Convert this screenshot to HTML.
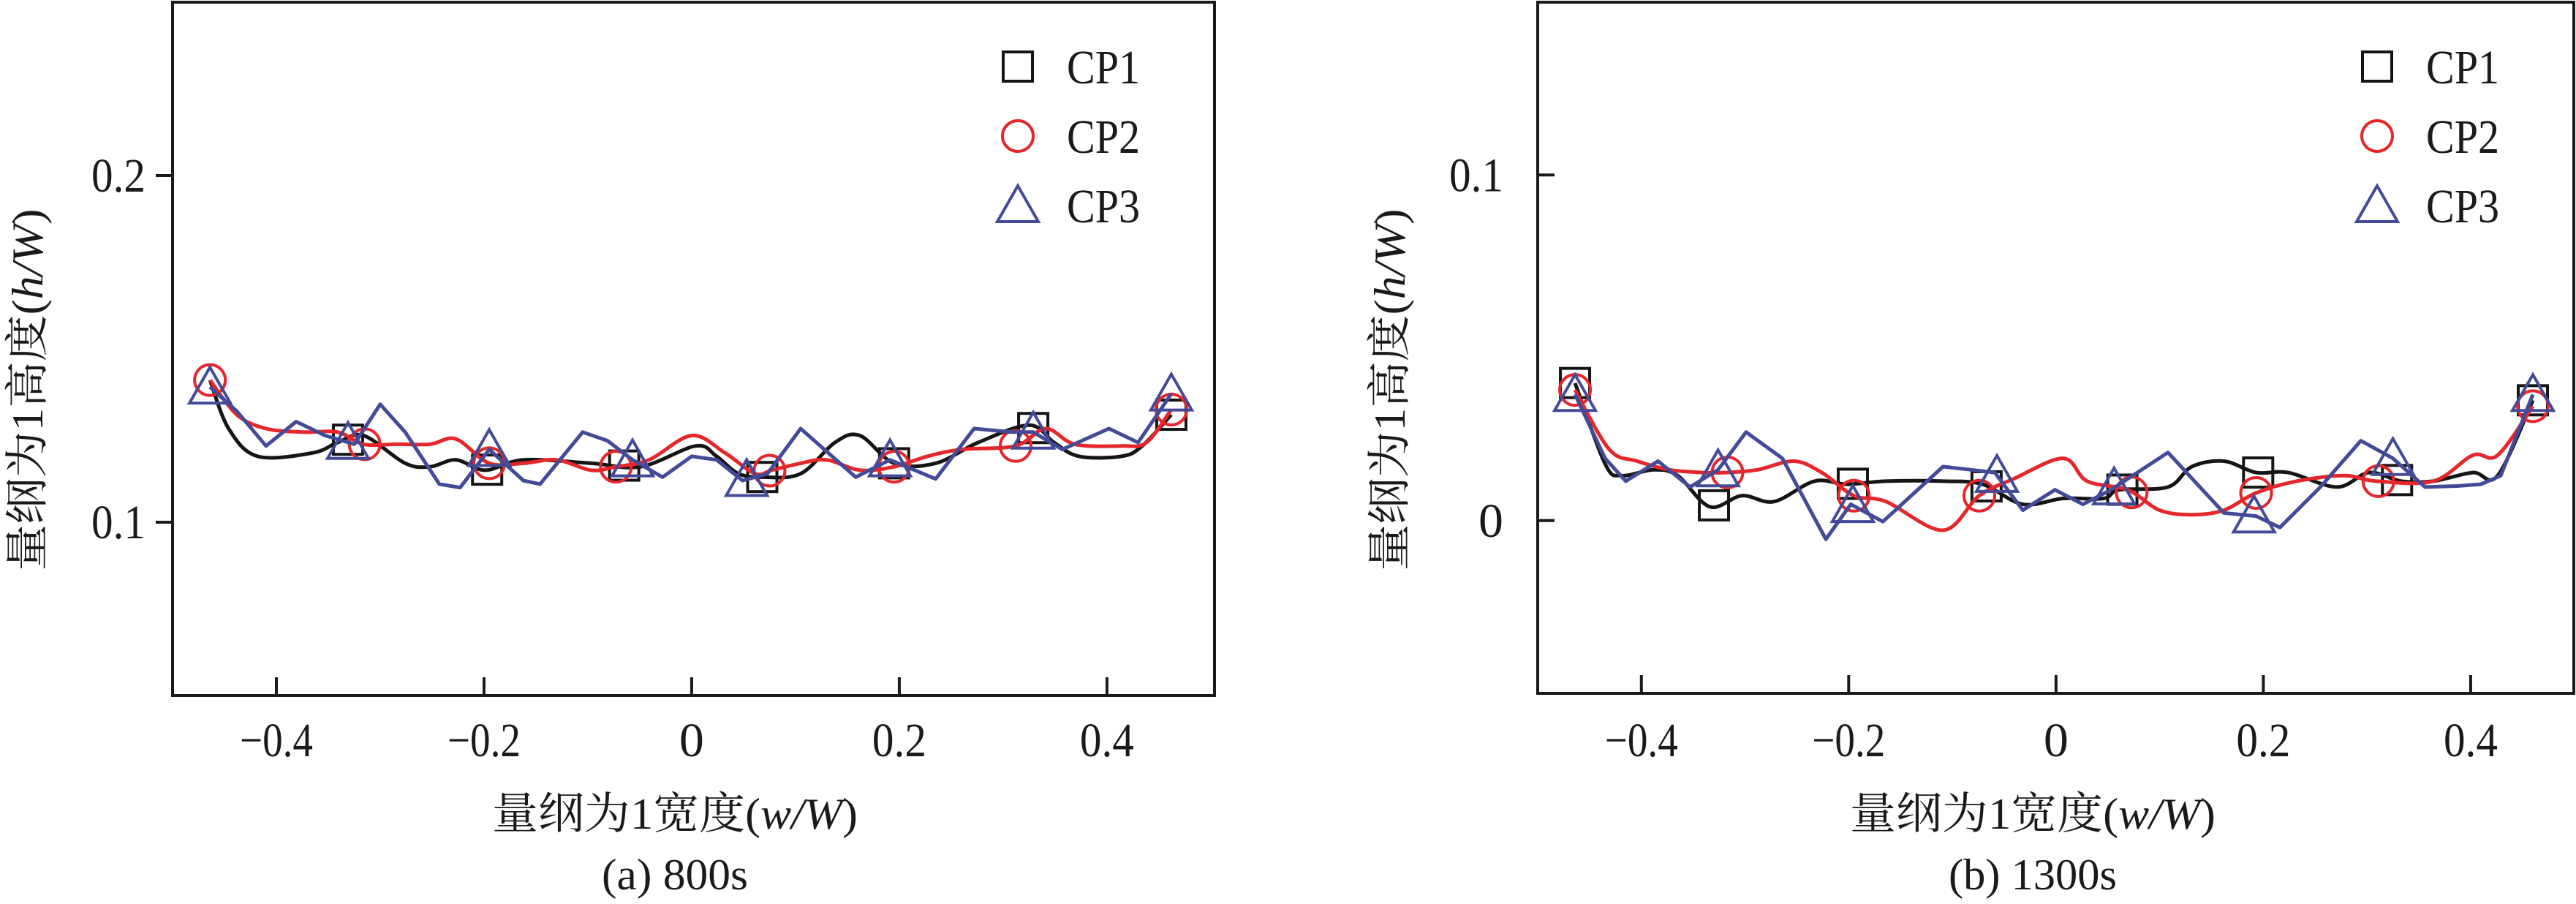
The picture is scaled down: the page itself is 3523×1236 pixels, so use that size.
<!DOCTYPE html>
<html><head><meta charset="utf-8"><style>
html,body{margin:0;padding:0;background:#fff;}
svg{display:block;}
text{font-family:"Liberation Serif","Noto Serif CJK SC",serif;fill:#1a1a1a;}
</style></head>
<body>
<svg id="fig" width="3523" height="1236" viewBox="0 0 3523 1236" xmlns="http://www.w3.org/2000/svg"></svg>
<script>
// ---------- Data: panel (a) 800s ----------
const aCP1x=[-0.464,-0.446,-0.418,-0.365,-0.341,-0.316,-0.276,-0.252,-0.227,-0.199,-0.162,-0.097,-0.049,0.004,0.024,0.045,0.069,0.105,0.138,0.162,0.195,0.235,0.276,0.325,0.349,0.373,0.414,0.434,0.462];
const aCP1y=[0.141,0.127,0.119,0.120,0.123,0.125,0.117,0.116,0.118,0.115,0.118,0.117,0.116,0.122,0.119,0.114,0.113,0.114,0.123,0.125,0.117,0.117,0.123,0.128,0.123,0.119,0.119,0.122,0.131];
const aCP1m=[-0.331,-0.197,-0.065,0.068,0.195,0.329,0.462];
const aCP2x=[-0.464,-0.438,-0.410,-0.373,-0.341,-0.316,-0.284,-0.252,-0.227,-0.195,-0.162,-0.130,-0.097,-0.073,-0.041,0.0,0.032,0.061,0.077,0.105,0.130,0.162,0.195,0.227,0.260,0.312,0.341,0.369,0.414,0.438,0.462];
const aCP2y=[0.141,0.131,0.127,0.126,0.126,0.1225,0.1225,0.1225,0.124,0.117,0.117,0.118,0.115,0.116,0.118,0.125,0.120,0.114,0.115,0.117,0.118,0.115,0.116,0.119,0.121,0.122,0.127,0.1225,0.122,0.123,0.1325];
const aCP2m=[-0.464,-0.315,-0.195,-0.073,0.075,0.195,0.312,0.462];
const aCP3x=[-0.464,-0.438,-0.410,-0.381,-0.353,-0.325,-0.300,-0.276,-0.243,-0.223,-0.195,-0.162,-0.146,-0.105,-0.081,-0.057,-0.028,0.0,0.024,0.049,0.073,0.105,0.158,0.191,0.235,0.272,0.308,0.329,0.357,0.402,0.430,0.462];
const aCP3y=[0.139,0.132,0.122,0.129,0.125,0.1225,0.134,0.126,0.111,0.110,0.121,0.112,0.111,0.126,0.1235,0.118,0.113,0.119,0.118,0.112,0.114,0.127,0.113,0.118,0.1125,0.127,0.126,0.126,0.121,0.127,0.123,0.137];
const aCP3m=[-0.464,-0.331,-0.195,-0.057,0.053,0.191,0.329,0.462];
// ---------- Data: panel (b) 1300s ----------
const bCP1x=[-0.464,-0.435,-0.419,-0.388,-0.365,-0.334,-0.303,-0.272,-0.233,-0.202,-0.164,-0.109,-0.071,-0.032,0.007,0.046,0.061,0.108,0.131,0.162,0.193,0.224,0.271,0.302,0.333,0.364,0.402,0.426,0.460];
const bCP1y=[0.0398,0.0164,0.013,0.0147,0.013,0.004,0.0072,0.0055,0.0114,0.0105,0.0114,0.0114,0.0105,0.0047,0.0064,0.0064,0.0089,0.0097,0.0156,0.0172,0.0139,0.0139,0.0097,0.0139,0.0114,0.0114,0.0139,0.013,0.0348];
const bCP1m=[-0.464,-0.330,-0.196,-0.067,0.064,0.195,0.329,0.460];
const bCP2x=[-0.464,-0.431,-0.404,-0.373,-0.341,-0.318,-0.288,-0.253,-0.226,-0.195,-0.164,-0.109,-0.074,-0.040,0.007,0.030,0.069,0.100,0.131,0.162,0.193,0.232,0.278,0.309,0.364,0.402,0.426,0.460];
const bCP2y=[0.0378,0.0206,0.0172,0.0147,0.0139,0.0139,0.0147,0.0172,0.0139,0.0072,0.0055,-0.0028,0.0072,0.0122,0.018,0.0114,0.0089,0.003,0.0017,0.003,0.008,0.0114,0.013,0.0114,0.0114,0.0189,0.0189,0.0331];
const bCP2m=[-0.464,-0.317,-0.195,-0.074,0.073,0.193,0.311,0.460];
const bCP3x=[-0.464,-0.435,-0.415,-0.384,-0.353,-0.326,-0.299,-0.264,-0.222,-0.198,-0.167,-0.109,-0.082,-0.059,-0.032,-0.001,0.026,0.053,0.108,0.162,0.193,0.216,0.255,0.294,0.325,0.356,0.387,0.410,0.429,0.460];
const bCP3y=[0.0365,0.018,0.0114,0.0172,0.0097,0.0147,0.0256,0.018,-0.0054,0.0047,-0.0003,0.0156,0.0147,0.0139,0.003,0.0089,0.0047,0.0089,0.0197,0.0022,0.0013,-0.002,0.0097,0.0231,0.018,0.0097,0.010,0.0105,0.013,0.0365];
const bCP3m=[-0.464,-0.326,-0.196,-0.057,0.056,0.191,0.325,0.460];
const xTicks=[-0.4,-0.2,0,0.2,0.4];
const xTickLabels=["\u22120.4","\u22120.2","0","0.2","0.4"];
const aYTicks=[0.1,0.2];
const aYTickLabels=["0.1","0.2"];
const bYTicks=[0,0.1];
const bYTickLabels=["0","0.1"];
const legendLabels=["CP1","CP2","CP3"];

const NS="http://www.w3.org/2000/svg";
const svg=document.getElementById('fig');
function el(tag,attrs,parent){const e=document.createElementNS(NS,tag);for(const k in attrs)e.setAttribute(k,attrs[k]);(parent||svg).appendChild(e);return e;}
function txt(s,x,y,size,anchor,len,parent,rot){
  const t=el('text',{x:x,y:y,'font-size':size,'text-anchor':anchor||'start','font-family':'Liberation Serif, Noto Serif CJK SC, serif'},parent);
  if(len){t.setAttribute('textLength',len);t.setAttribute('lengthAdjust','spacingAndGlyphs');}
  if(rot)t.setAttribute('transform','rotate(-90 '+x+' '+y+')');
  t.textContent=s;return t;}
function titleTxt(a,b,c,x,y,size,len,parent,rot){
  const t=txt('',x,y,size,'middle',len,parent,rot);
  const s1=el('tspan',{},t);s1.textContent=a;
  const s2=el('tspan',{'font-style':'italic'},t);s2.textContent=b;
  const s3=el('tspan',{},t);s3.textContent=c;
  return t;}
function interp(xs,ys,x){for(let i=0;i<xs.length-1;i++){if(x>=xs[i]&&x<=xs[i+1]){const f=(x-xs[i])/(xs[i+1]-xs[i]);return ys[i]+f*(ys[i+1]-ys[i]);}}return x<xs[0]?ys[0]:ys[ys.length-1];}
function smoothPath(pts){
  let d='M'+pts[0][0].toFixed(1)+' '+pts[0][1].toFixed(1);
  for(let i=0;i<pts.length-1;i++){
    const p0=pts[Math.max(0,i-1)],p1=pts[i],p2=pts[i+1],p3=pts[Math.min(pts.length-1,i+2)];
    const c1x=p1[0]+(p2[0]-p0[0])/6,c1y=p1[1]+(p2[1]-p0[1])/6;
    const c2x=p2[0]-(p3[0]-p1[0])/6,c2y=p2[1]-(p3[1]-p1[1])/6;
    d+=' C'+c1x.toFixed(1)+' '+c1y.toFixed(1)+' '+c2x.toFixed(1)+' '+c2y.toFixed(1)+' '+p2[0].toFixed(1)+' '+p2[1].toFixed(1);
  }
  return d;}
const COLORS=["#151515","#e5262a","#434b98"];

function panel(p){
  const g=el('g',{});
  
  
  const X=v=>p.L+(v-p.xmin)/(p.xmax-p.xmin)*(p.R-p.L);
  const Y=v=>p.B-(v-p.ymin)/(p.ymax-p.ymin)*(p.B-p.T);
  const fr=el('rect',{x:p.L,y:p.T,width:p.R-p.L,height:p.B-p.T,fill:'none',stroke:'#1a1a1a','stroke-width':4},g);
  
  
  xTicks.forEach((v,i)=>{
    const l=el('line',{x1:X(v),x2:X(v),y1:p.B,y2:p.B-25,stroke:'#1a1a1a','stroke-width':4},g);
    
    
    const w=xTickLabels[i].length===1?34:(xTickLabels[i].length===3?74:100);
    const t=txt(xTickLabels[i],X(v),1034,66,'middle',w,g);
    
    
  });
  p.yTicks.forEach((v,i)=>{
    const l=el('line',{x1:p.L,x2:p.L+p.ytDir*23,y1:Y(v),y2:Y(v),stroke:'#1a1a1a','stroke-width':4},g);
    
    
    const s=p.yLabels[i];
    const t=txt(s,p.ylabX,Y(v)+22,66,'end',s.length===1?34:74,g);
    
    
  });
  const xt=titleTxt('量纲为1宽度(','w/W',')',p.xtX,1133,60,500,g);
  
  
  const yt=titleTxt('量纲为1高度(','h/W',')',p.ytX,533,60,495,g,true);
  
  
  const cap=txt(p.caption,p.xtX,1216,60,'middle',p.capW,g);
  
  
  p.series.forEach((s,si)=>{
    const sg=el('g',{},g);
    
    
    const pts=s.x.map((v,i)=>[X(v),Y(s.y[i])]);
    const d=si<2?smoothPath(pts):pts.map((q,i)=>(i?'L':'M')+q[0].toFixed(1)+' '+q[1].toFixed(1)).join(' ');
    const path=el('path',{d:d,fill:'none',stroke:COLORS[si],'stroke-width':5,'stroke-linejoin':'round'},sg);
    
    
    s.m.forEach(mx=>{
      const cx=X(mx),cy=Y(interp(s.x,s.y,mx));
      const mk=marker(si,cx,cy,sg);
      
      
    });
  });
  legendLabels.forEach((lab,i)=>{
    const lg=el('g',{},g);
    
    
    const cy=91+i*95;
    marker(i,p.legX,cy,lg);
    txt(lab,p.legX+67,cy+23,66,'start',100,lg);
  });
}
function marker(i,cx,cy,parent){
  if(i===0)return el('rect',{x:cx-20,y:cy-20,width:40,height:40,fill:'none',stroke:COLORS[0],'stroke-width':4},parent);
  if(i===1)return el('circle',{cx:cx,cy:cy,r:21,fill:'none',stroke:COLORS[1],'stroke-width':4},parent);
  return el('polygon',{points:(cx-28)+','+(cy+22)+' '+(cx+28)+','+(cy+22)+' '+cx+','+(cy-27),fill:'none',stroke:COLORS[2],'stroke-width':4,'stroke-linejoin':'miter'},parent);
}
panel({name:'panel-a-800s',L:236,R:1661,T:3,B:951,xmin:-0.5,xmax:0.5036,ymin:0.05,ymax:0.25,
  yTicks:aYTicks,yLabels:aYTickLabels,ytDir:-1,ylabX:199,xtX:923,ytX:58,caption:'(a) 800s',capW:200,legX:1392,
  series:[{x:aCP1x,y:aCP1y,m:aCP1m},{x:aCP2x,y:aCP2y,m:aCP2m},{x:aCP3x,y:aCP3y,m:aCP3m}]});
panel({name:'panel-b-1300s',L:2103,R:3520,T:3,B:948,xmin:-0.5,xmax:0.4995,ymin:-0.05,ymax:0.15,
  yTicks:bYTicks,yLabels:bYTickLabels,ytDir:1,ylabX:2056,xtX:2780,ytX:1921,caption:'(b) 1300s',capW:230,legX:3251,
  series:[{x:bCP1x,y:bCP1y,m:bCP1m},{x:bCP2x,y:bCP2y,m:bCP2m},{x:bCP3x,y:bCP3y,m:bCP3m}]});
</script>
</body></html>
